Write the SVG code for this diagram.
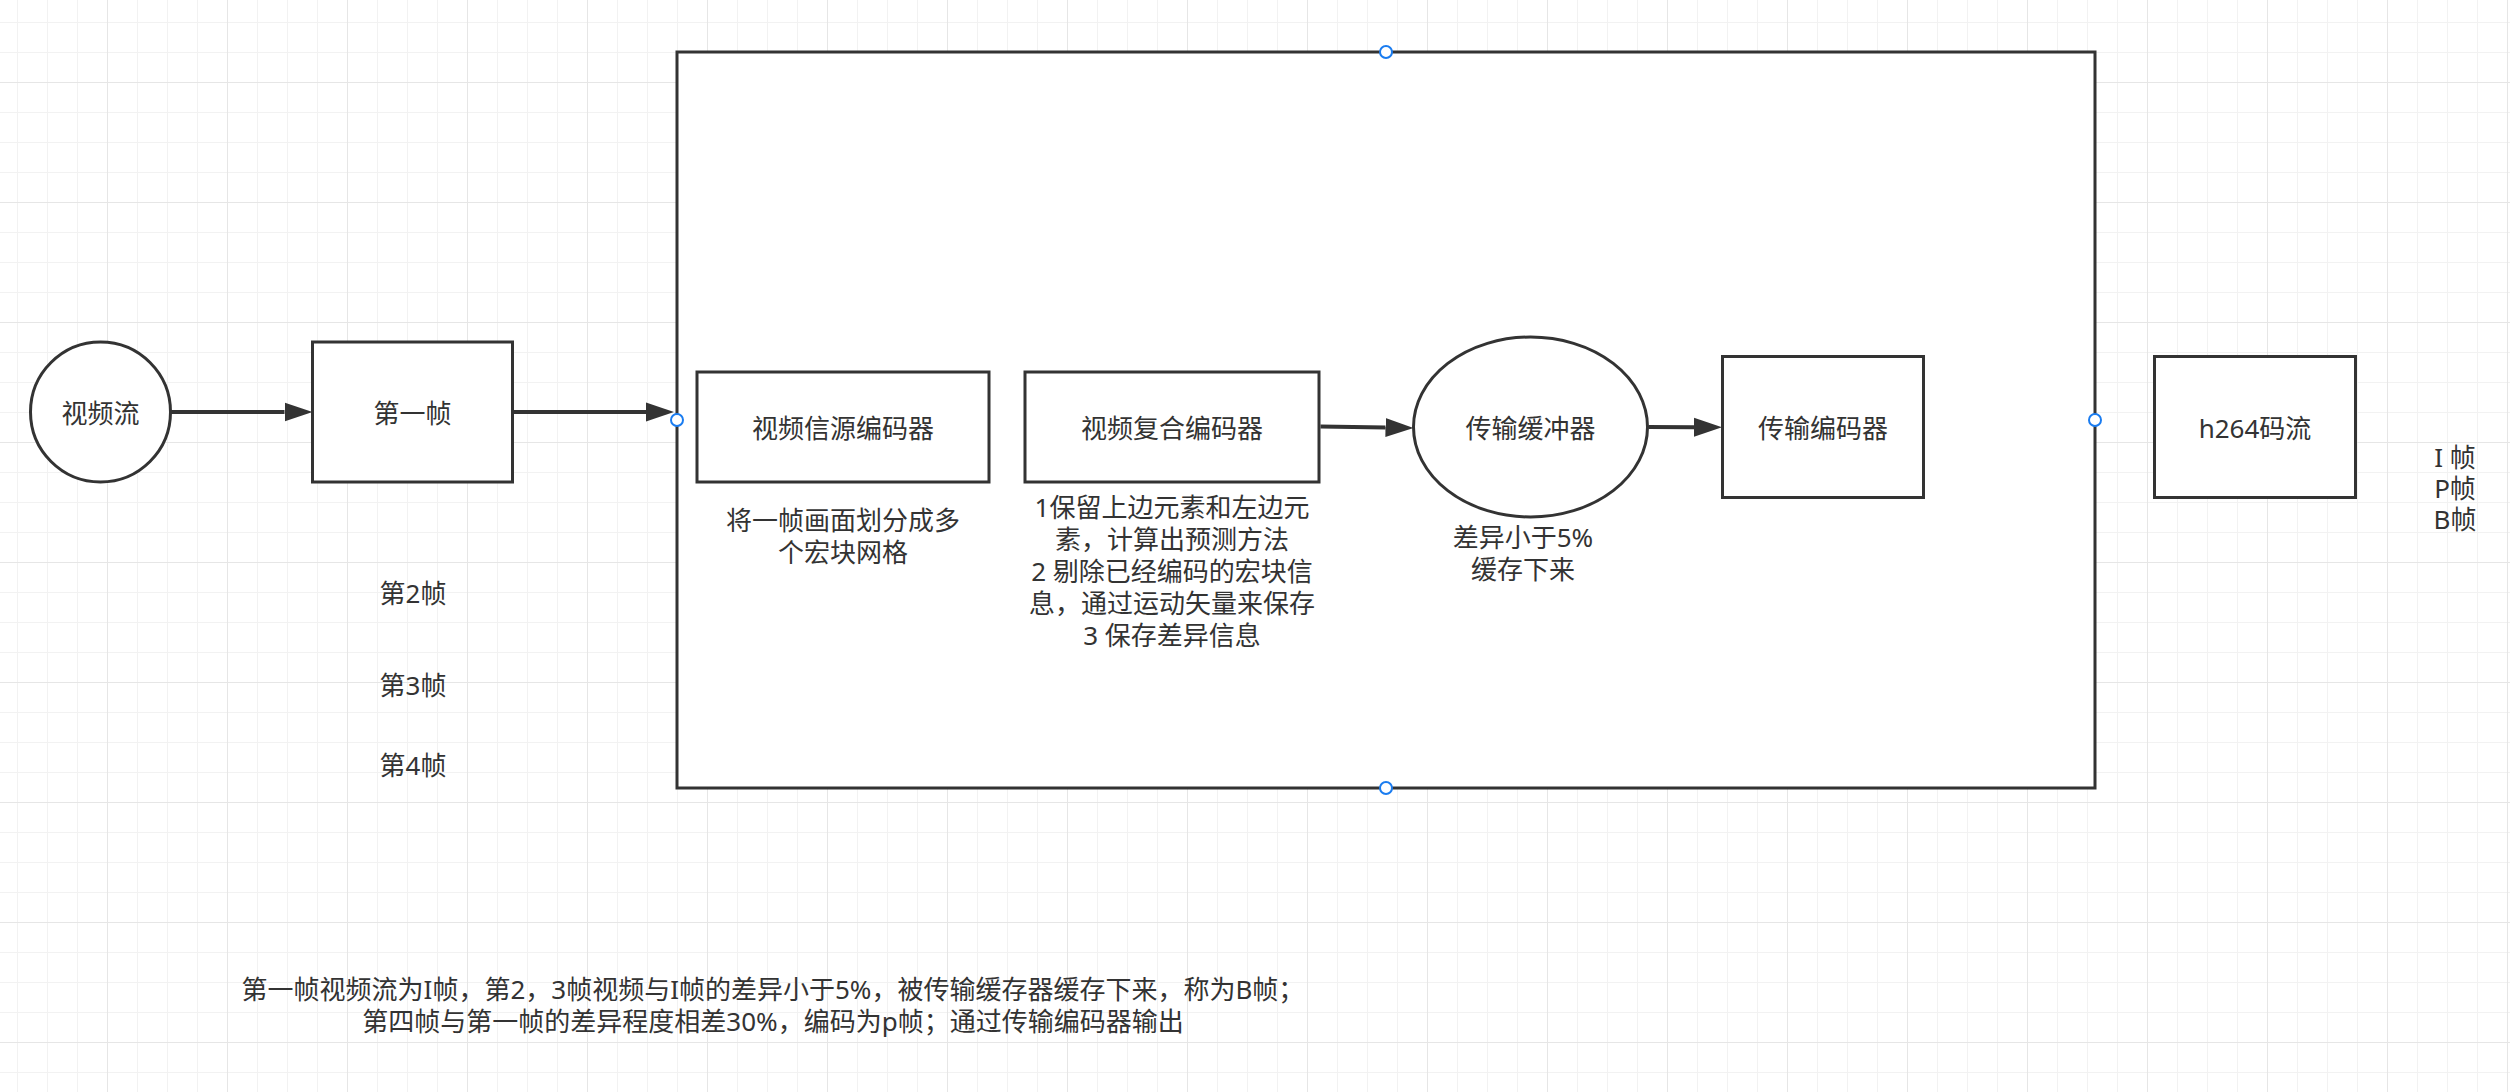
<svg xmlns="http://www.w3.org/2000/svg" width="2510" height="1092" viewBox="0 0 2510 1092">
<style>
.t{font-family:"Noto Sans","Noto Sans CJK SC",sans-serif;font-size:26px;fill:#333333;text-anchor:middle;dominant-baseline:central}
.n{fill:#ffffff;stroke:#333333;stroke-width:3}
.c{fill:none;stroke:#333333;stroke-width:4}
.p{fill:#ffffff;stroke:#1a7cf0;stroke-width:2}
</style>
<defs>
<pattern id="grid" x="107" y="82" width="120" height="120" patternUnits="userSpaceOnUse">
<path d="M30.5,0V120M60.5,0V120M90.5,0V120M0,30.5H120M0,60.5H120M0,90.5H120" stroke="#f2f2f2" stroke-width="1" fill="none"/>
<path d="M0.5,0V120M0,0.5H120" stroke="#e6e6e6" stroke-width="1" fill="none"/>
</pattern>
<marker id="ah" markerUnits="userSpaceOnUse" markerWidth="30" markerHeight="22" refX="0" refY="10" orient="auto">
<path d="M0,0.5 L28,10 L0,19.5 Z" fill="#333333"/>
</marker>
</defs>
<rect x="0" y="0" width="2510" height="1092" fill="#ffffff"/>
<rect x="0" y="0" width="2510" height="1092" fill="url(#grid)"/>

<g id="container">
<rect class="n" x="677" y="52" width="1418" height="736"/>
</g>

<g id="node-video-stream">
<ellipse class="n" cx="100.5" cy="412" rx="70" ry="70"/>
<text class="t" x="100.5" y="413">视频流</text>
</g>

<g id="node-first-frame">
<rect class="n" x="312.5" y="342" width="200" height="140"/>
<text class="t" x="412.5" y="413">第一帧</text>
</g>

<g id="node-source-encoder">
<rect class="n" x="697" y="372" width="292" height="110"/>
<text class="t" x="843" y="428">视频信源编码器</text>
</g>

<g id="node-compound-encoder">
<rect class="n" x="1025" y="372" width="294" height="110"/>
<text class="t" x="1172" y="428">视频复合编码器</text>
</g>

<g id="node-transmit-buffer">
<ellipse class="n" cx="1530.5" cy="427" rx="117" ry="90"/>
<text class="t" x="1530.5" y="428">传输缓冲器</text>
</g>

<g id="node-transmit-encoder">
<rect class="n" x="1722.5" y="356.5" width="201" height="141"/>
<text class="t" x="1823" y="428">传输编码器</text>
</g>

<g id="node-h264">
<rect class="n" x="2154.5" y="356.5" width="201" height="141"/>
<text class="t" x="2255" y="428">h264码流</text>
</g>

<g id="label-source-desc">
<text class="t" x="843" y="520">将一帧画面划分成多</text>
<text class="t" x="843" y="552">个宏块网格</text>
</g>

<g id="label-compound-desc">
<text class="t" x="1172" y="507">1保留上边元素和左边元</text>
<text class="t" x="1172" y="539">素，计算出预测方法</text>
<text class="t" x="1172" y="571">2 剔除已经编码的宏块信</text>
<text class="t" x="1172" y="603">息，通过运动矢量来保存</text>
<text class="t" x="1172" y="635">3 保存差异信息</text>
</g>

<g id="label-buffer-desc">
<text class="t" x="1523" y="537">差异小于5%</text>
<text class="t" x="1523" y="569">缓存下来</text>
</g>

<g id="label-frames">
<text class="t" x="413" y="593">第2帧</text>
<text class="t" x="413" y="685">第3帧</text>
<text class="t" x="413" y="765">第4帧</text>
</g>

<g id="label-frame-types">
<text class="t" x="2455" y="457">I 帧</text>
<text class="t" x="2455" y="488">P帧</text>
<text class="t" x="2455" y="519">B帧</text>
</g>

<g id="label-summary">
<text class="t" x="773" y="989">第一帧视频流为I帧，第2，3帧视频与I帧的差异小于5%，被传输缓存器缓存下来，称为B帧；</text>
<text class="t" x="773" y="1021">第四帧与第一帧的差异程度相差30%，编码为p帧；通过传输编码器输出</text>
</g>

<g id="connectors">
<path class="c" d="M171,412 L284.5,412" marker-end="url(#ah)"/>
<path class="c" d="M513,412 L646,412" marker-end="url(#ah)"/>
<path class="c" d="M1320.5,426.5 L1385.5,427.5" marker-end="url(#ah)"/>
<path class="c" d="M1648.5,427 L1694,427.2" marker-end="url(#ah)"/>
</g>

<g id="connection-points">
<circle class="p" cx="1386" cy="52" r="6"/>
<circle class="p" cx="1386" cy="788" r="6"/>
<circle class="p" cx="677" cy="420" r="6"/>
<circle class="p" cx="2095" cy="420" r="6"/>
</g>
</svg>
